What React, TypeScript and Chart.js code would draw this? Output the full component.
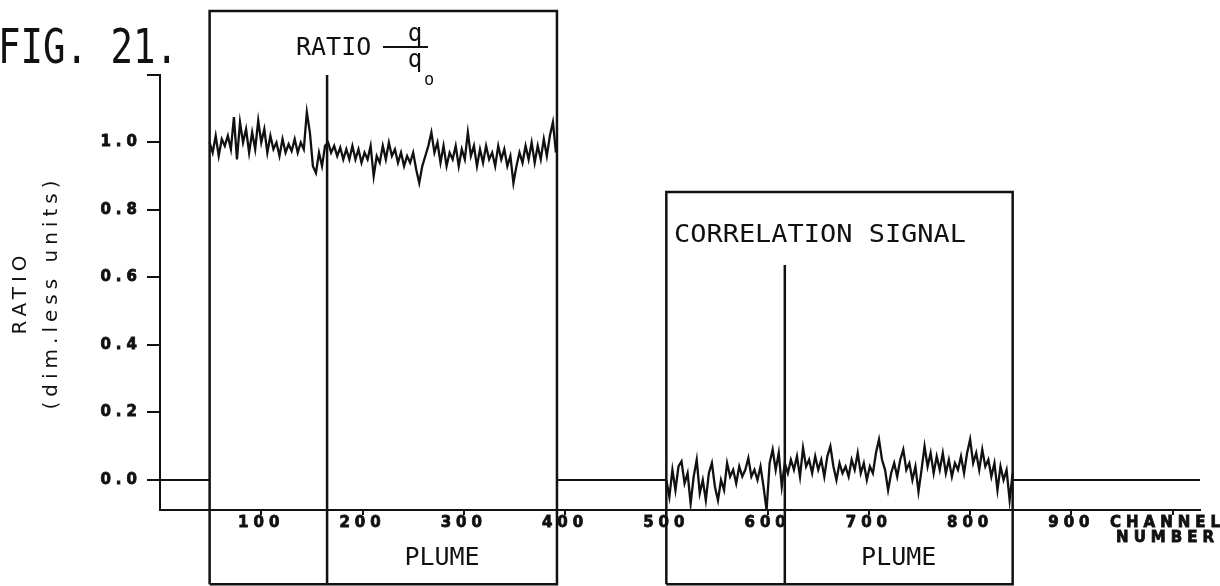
import React, { useEffect, useRef } from 'react';
import { Chart, registerables } from 'chart.js';

Chart.register(...registerables);

// ---- data (channel number -> dimensionless ratio) ----
const STEP = 3;
const RATIO_START = 49;
const ratioValues = [
  1.00, 0.97, 1.02, 0.96, 1.01, 0.99, 1.02, 0.98, 1.075, 0.95,
  1.06, 1.00, 1.04, 0.97, 1.03, 0.98, 1.065, 1.00, 1.04, 0.97,
  1.02, 0.98, 1.00, 0.96, 1.01, 0.97, 0.995, 0.975, 1.01, 0.97,
  1.00, 0.98, 1.09, 1.03, 0.93, 0.91, 0.97, 0.93, 0.99, 1.00,
  0.97, 0.99, 0.96, 0.985, 0.95, 0.98, 0.95, 0.99, 0.95, 0.98,
  0.94, 0.97, 0.95, 0.99, 0.90, 0.96, 0.94, 0.99, 0.95, 1.00,
  0.96, 0.98, 0.94, 0.97, 0.93, 0.96, 0.94, 0.97, 0.92, 0.88,
  0.93, 0.96, 0.99, 1.03, 0.97, 1.00, 0.94, 0.99, 0.93, 0.97,
  0.95, 0.99, 0.93, 0.98, 0.95, 1.03, 0.96, 0.99, 0.93, 0.98,
  0.94, 0.99, 0.95, 0.97, 0.93, 0.99, 0.95, 0.98, 0.93, 0.96,
  0.88, 0.93, 0.97, 0.94, 0.99, 0.95, 1.00, 0.94, 0.99, 0.95,
  1.01, 0.96, 1.02, 1.06, 0.97,
];

const CORR_START = 500;
const corrValues = [
  0.00, -0.05, 0.03, -0.03, 0.04, 0.055, -0.01, 0.02, -0.07, 0.01,
  0.06, -0.04, 0.00, -0.06, 0.02, 0.05, -0.02, -0.06, 0.00, -0.03,
  0.05, 0.01, 0.03, -0.01, 0.04, 0.01, 0.03, 0.065, 0.01, 0.03,
  0.00, 0.04, -0.02, -0.09, 0.05, 0.09, 0.03, 0.08, -0.02, 0.05,
  0.02, 0.06, 0.03, 0.07, 0.01, 0.095, 0.04, 0.06, 0.02, 0.07,
  0.03, 0.06, 0.01, 0.07, 0.10, 0.04, 0.00, 0.05, 0.02, 0.04,
  0.01, 0.06, 0.03, 0.08, 0.02, 0.05, 0.00, 0.04, 0.02, 0.08,
  0.12, 0.06, 0.03, -0.03, 0.02, 0.05, 0.01, 0.06, 0.09, 0.03,
  0.05, 0.00, 0.04, -0.035, 0.03, 0.10, 0.04, 0.08, 0.02, 0.07,
  0.03, 0.08, 0.02, 0.06, 0.01, 0.05, 0.03, 0.07, 0.02, 0.08,
  0.12, 0.05, 0.08, 0.03, 0.09, 0.04, 0.06, 0.01, 0.05, -0.03,
  0.04, 0.00, 0.03, -0.06, 0.02,
];

const baselineChannels = [0, 49, 220, 392, 500, 670, 842, 1027];
const baselineValues = [0, 0, null, 0, 0, null, 0, 0];

// plume windows (channel ranges) and their marker channels
const plumeWindows = [[49, 392], [500, 842]];
const windowTops = [1.39, 0.853];
const markerChannels = [165, 617];
const markerTops = [1.2, 0.637];
const FRAME_BOTTOM = -0.309;

const X_MIN = 0;
const X_MAX = 1027;
const Y_MIN = -0.089;
const Y_MAX = 1.2;

const xTickValues = [100, 200, 300, 400, 500, 600, 700, 800, 900, 1000];
const xTickLabels: (string | string[])[] = ['100', '200', '300', '400', '500', '600', '700', '800', '900', ['CHANNEL ', 'NUMBER ']];
const yTickValues = [0, 0.2, 0.4, 0.6, 0.8, 1.0, 1.2];
const yTickLabels = ['0.0', '0.2', '0.4', '0.6', '0.8', '1.0', ''];

const INK = '#111111';
const MONO = '"DejaVu Sans Mono", monospace';

function drawText(
  ctx: CanvasRenderingContext2D,
  text: string,
  x: number,
  y: number,
  size: number,
  align: 'left' | 'center',
  width?: number,
) {
  ctx.save();
  ctx.font = `normal ${size}px ${MONO}`;
  ctx.textBaseline = 'alphabetic';
  ctx.textAlign = 'left';
  const w = ctx.measureText(text).width;
  const sx = width ? width / w : 1;
  const left = align === 'center' ? x - (w * sx) / 2 : x;
  ctx.translate(left, y);
  ctx.scale(sx, 1);
  ctx.fillText(text, 0, 0);
  ctx.restore();
}

const figurePlugin = {
  id: 'fig21',
  beforeDraw(chart: any) {
    (chart.ctx as any).letterSpacing = '5px';
  },
  afterDraw(chart: any) {
    const ctx: CanvasRenderingContext2D = chart.ctx;
    const xs = chart.scales.x;
    ctx.save();
    (ctx as any).letterSpacing = '0px';
    ctx.fillStyle = INK;
    ctx.strokeStyle = INK;

    drawText(ctx, 'FIG. 21.', -2, 63, 48, 'left', 180);

    // RATIO q / q0
    drawText(ctx, 'RATIO', 296, 55, 25, 'left');
    ctx.lineWidth = 2;
    ctx.beginPath();
    ctx.moveTo(383, 47);
    ctx.lineTo(428, 47);
    ctx.stroke();
    drawText(ctx, 'q', 415, 41, 24, 'center');
    drawText(ctx, 'q', 415, 67, 24, 'center');
    drawText(ctx, 'o', 429, 85, 17, 'center');

    drawText(ctx, 'CORRELATION SIGNAL', 674, 242, 25, 'left', 292);

    plumeWindows.forEach((w, i) => {
      const cx = (xs.getPixelForValue(markerChannels[i]) + xs.getPixelForValue(w[1])) / 2;
      drawText(ctx, 'PLUME', cx, 565, 25, 'center');
    });
    ctx.restore();
  },
};

export default function App() {
  const canvasRef = useRef<HTMLCanvasElement | null>(null);

  useEffect(() => {
    document.body.style.margin = '0';
    const canvas = canvasRef.current;
    if (!canvas) return;

    const lineStyle = {
      borderColor: INK,
      borderWidth: 2.3,
      pointRadius: 0,
      tension: 0,
      fill: false,
    };

    const frameSets: any[] = [];
    plumeWindows.forEach((w, i) => {
      frameSets.push({
        label: `Plume window ${i + 1}`,
        data: [
          { x: w[0], y: FRAME_BOTTOM },
          { x: w[0], y: windowTops[i] },
          { x: w[1], y: windowTops[i] },
          { x: w[1], y: FRAME_BOTTOM },
          { x: w[0], y: FRAME_BOTTOM },
        ],
        ...lineStyle,
        borderWidth: 2.5,
        clip: false,
      });
      frameSets.push({
        label: `Marker ${i + 1}`,
        data: [
          { x: markerChannels[i], y: markerTops[i] },
          { x: markerChannels[i], y: FRAME_BOTTOM },
        ],
        ...lineStyle,
        borderWidth: 2.5,
        clip: false,
      });
    });

    const tickFont = { family: '"DejaVu Sans"', size: 15, weight: 'bold', lineHeight: 1.0 };

    const chart = new Chart(canvas, {
      type: 'line',
      data: {
        datasets: [
          {
            label: 'Ratio q/q0',
            data: ratioValues.map((v, i) => ({ x: RATIO_START + i * STEP, y: v })),
            ...lineStyle,
          },
          {
            label: 'Correlation signal',
            data: corrValues.map((v, i) => ({ x: CORR_START + i * STEP, y: v })),
            ...lineStyle,
          },
          {
            label: 'Baseline',
            data: baselineChannels.map((c, i) => ({ x: c, y: baselineValues[i] })),
            ...lineStyle,
            borderWidth: 2,
            spanGaps: false,
          },
          ...frameSets,
        ],
      },
      options: {
        responsive: false,
        animation: false,
        devicePixelRatio: 1,
        layout: { padding: { left: 0, top: 75, right: 20, bottom: 0 } },
        plugins: {
          legend: { display: false },
          tooltip: { enabled: false },
        },
        scales: {
          x: {
            type: 'linear',
            min: X_MIN,
            max: X_MAX,
            afterBuildTicks: (scale: any) => {
              scale.ticks = xTickValues.map((v) => ({ value: v }));
            },
            afterFit: (scale: any) => {
              scale.height = 76;
            },
            ticks: {
              autoSkip: false,
              maxRotation: 0,
              minRotation: 0,
              padding: 1,
              color: INK,
              textStrokeColor: INK,
              textStrokeWidth: 0.8,
              font: tickFont,
              callback: (_v: any, i: number) => xTickLabels[i],
            },
            grid: {
              display: true,
              drawOnChartArea: false,
              drawTicks: true,
              tickLength: 5,
              color: INK,
              lineWidth: 2,
              tickWidth: 2,
            },
            border: { display: true, color: INK, width: 2 },
          },
          y: {
            type: 'linear',
            min: Y_MIN,
            max: Y_MAX,
            afterBuildTicks: (scale: any) => {
              scale.ticks = yTickValues.map((v) => ({ value: v }));
            },
            afterFit: (scale: any) => {
              scale.width = 160;
            },
            ticks: {
              padding: 5,
              color: INK,
              textStrokeColor: INK,
              textStrokeWidth: 0.8,
              font: { ...tickFont, lineHeight: 1.2 },
              callback: (_v: any, i: number) => yTickLabels[i],
            },
            grid: {
              display: true,
              drawOnChartArea: false,
              drawTicks: true,
              tickLength: 13,
              color: INK,
              lineWidth: 2,
              tickWidth: 2,
            },
            border: { display: true, color: INK, width: 2 },
            title: {
              display: true,
              text: ['RATIO', '(dim.less units)'],
              color: INK,
              font: { family: '"DejaVu Sans"', size: 20, weight: 'normal', lineHeight: 1.55 },
              padding: { top: 5, bottom: 0 },
            },
          },
        },
      } as any,
      plugins: [figurePlugin],
    });

    return () => {
      chart.destroy();
    };
  }, []);

  return (
    <div style={{ width: 1220, height: 586, background: '#fff' }}>
      <canvas ref={canvasRef} width={1220} height={586} style={{ display: 'block' }} />
    </div>
  );
}
